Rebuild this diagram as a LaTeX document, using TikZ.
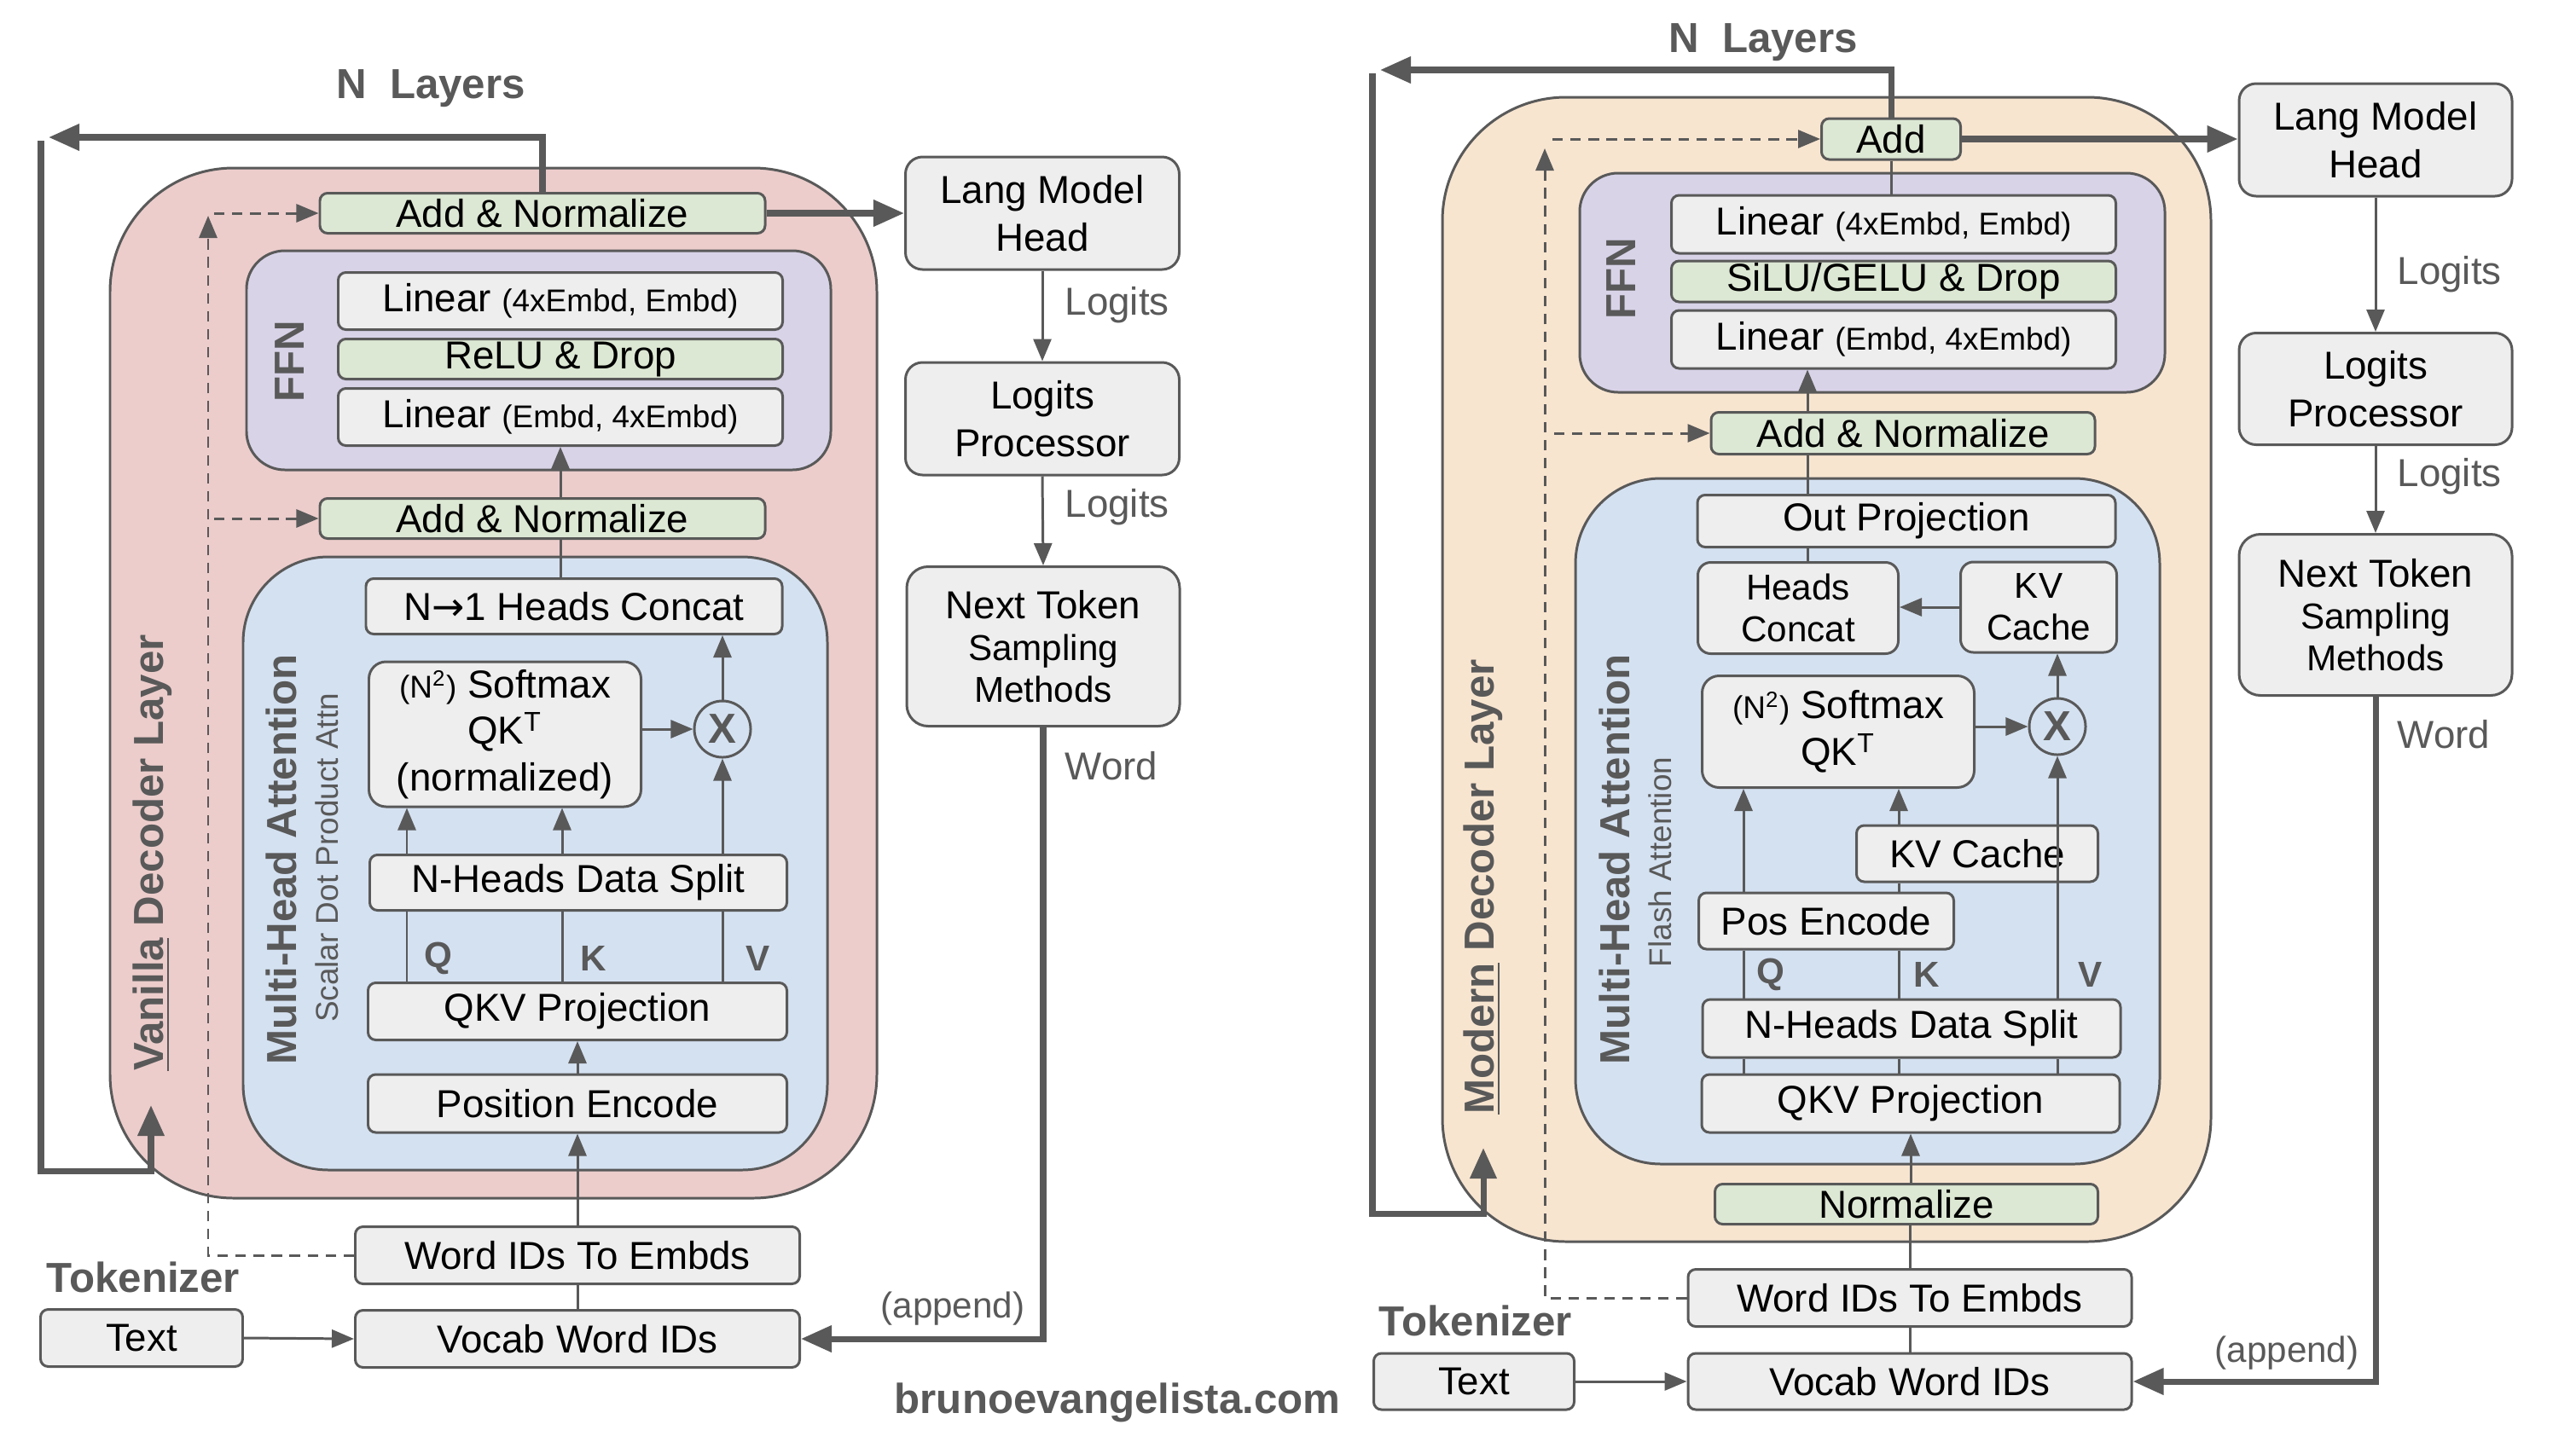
\documentclass[tikz,border=0pt]{standalone}
\usepackage{fontspec}
\setmainfont{Liberation Sans}
\newfontfamily\arrowFont{DejaVu Sans}
\usepackage{xcolor}
\newcommand*\smallPart[1]{{\fontsize{10.5}{12}\selectfont #1}}
\usepackage{tikz}
\usetikzlibrary{positioning}
\usetikzlibrary{arrows.meta}

\definecolor{lineGray}{HTML}{595959}
\definecolor{boxGray}{HTML}{EEEEEE}
\definecolor{boxGreen}{HTML}{DDE8D4}
\definecolor{vanillaPink}{HTML}{ECCDCC}
\definecolor{modernPeach}{HTML}{F8E5D0}
\definecolor{ffnPurple}{HTML}{D9D3E8}
\definecolor{mhaBlue}{HTML}{D4E1F1}

\begin{document}
\begin{tikzpicture}[
            box/.style = { draw = lineGray, line width = 0.85pt, fill = boxGray, rounded corners = 0.09cm, align = center, inner sep = 0pt, text = black, font = \fontsize{13}{16}\selectfont },
            grnbox/.style = { box, fill = boxGreen },
            wrap/.style = { draw = lineGray, line width = 0.85pt, rounded corners = #1 },
            mulop/.style = { circle, draw = lineGray, line width = 0.85pt, minimum size = 0.66cm, inner sep = 0pt, text = lineGray, font = \fontsize{14}{16}\selectfont\bfseries },
            lbl/.style = { text = lineGray, inner sep = 0pt, font = \fontsize{13}{15}\selectfont },
            boldlbl/.style = { text = lineGray, inner sep = 0pt, font = \fontsize{14}{16}\selectfont\bfseries },
            qkvlbl/.style = { text = lineGray, inner sep = 0pt, font = \fontsize{12}{14}\selectfont\bfseries },
            conn/.style = { draw = lineGray, line width = 0.85pt },
            arr/.style = { conn, -{Triangle[length = 0.26cm, width = 0.21cm]} },
            thickarr/.style = { draw = lineGray, line width = 2pt, -{Triangle[length = 0.36cm, width = 0.3cm]} },
            dasharr/.style = { arr, dash pattern = on 3.5pt off 2.5pt },
            ]
            \def\oneUnit{0.01cm}
            \useasboundingbox (0,0) rectangle (3020*\oneUnit,-1690*\oneUnit);

            % ---------- vanilla decoder ----------
            \draw[wrap = 145*\oneUnit, fill = vanillaPink] (129*\oneUnit,-197*\oneUnit) rectangle (1028*\oneUnit,-1405*\oneUnit);
            \draw[wrap = 45*\oneUnit, fill = ffnPurple] (289*\oneUnit,-294*\oneUnit) rectangle (974*\oneUnit,-551*\oneUnit);
            \draw[wrap = 100*\oneUnit, fill = mhaBlue] (285*\oneUnit,-653*\oneUnit) rectangle (970*\oneUnit,-1372*\oneUnit);

            \node[boldlbl] (layersL) at (505*\oneUnit,-104*\oneUnit) {N\ \ Layers};
            \node[boldlbl, rotate = 90] (vanillaL) at (179*\oneUnit,-1000*\oneUnit) {\underline{Vanilla} Decoder Layer};
            \node[boldlbl, rotate = 90] (mhaL) at (330*\oneUnit,-1008*\oneUnit) {Multi-Head Attention};
            \node[lbl, rotate = 90, font = \fontsize{10.5}{12}\selectfont] (scalarL) at (383*\oneUnit,-1006*\oneUnit) {Scalar Dot Product Attn};
            \node[boldlbl, rotate = 90] (ffnL) at (340*\oneUnit,-424*\oneUnit) {FFN};

            \node[grnbox, minimum width = 522*\oneUnit, minimum height = 47*\oneUnit] (addNormTop) at (636*\oneUnit,-250*\oneUnit) {Add \& Normalize};
            \node[box, minimum width = 521*\oneUnit, minimum height = 67*\oneUnit] (linA) at (657*\oneUnit,-353*\oneUnit) {Linear \smallPart{(4xEmbd, Embd)}};
            \node[grnbox, minimum width = 521*\oneUnit, minimum height = 47*\oneUnit] (relu) at (657*\oneUnit,-421*\oneUnit) {ReLU \& Drop};
            \node[box, minimum width = 521*\oneUnit, minimum height = 67*\oneUnit] (linB) at (657*\oneUnit,-489*\oneUnit) {Linear \smallPart{(Embd, 4xEmbd)}};
            \node[grnbox, minimum width = 522*\oneUnit, minimum height = 47*\oneUnit] (addNormMid) at (636*\oneUnit,-608*\oneUnit) {Add \& Normalize};

            \node[box, minimum width = 488*\oneUnit, minimum height = 65*\oneUnit] (concatL) at (673*\oneUnit,-711*\oneUnit) {N{\arrowFont →}1 Heads Concat};
            \node[box, rounded corners = 0.2cm, minimum width = 319*\oneUnit, minimum height = 170*\oneUnit, font = \fontsize{13}{15.5}\selectfont] (softmaxL) at (592*\oneUnit,-861*\oneUnit) {\smallPart{(N\textsuperscript{2})} Softmax\\QK\textsuperscript{T}\\(normalized)};
            \node[mulop] (mulL) at (847*\oneUnit,-855*\oneUnit) {X};
            \node[box, minimum width = 489*\oneUnit, minimum height = 65*\oneUnit] (splitL) at (678*\oneUnit,-1035*\oneUnit) {N-Heads Data Split};
            \node[box, minimum width = 491*\oneUnit, minimum height = 67*\oneUnit] (qkvL) at (677*\oneUnit,-1186*\oneUnit) {QKV Projection};
            \node[box, minimum width = 491*\oneUnit, minimum height = 68*\oneUnit] (posL) at (677*\oneUnit,-1294*\oneUnit) {Position Encode};
            \node[box, minimum width = 521*\oneUnit, minimum height = 67*\oneUnit] (widL) at (677*\oneUnit,-1472*\oneUnit) {Word IDs To Embds};
            \node[box, minimum width = 521*\oneUnit, minimum height = 67*\oneUnit] (vocabL) at (677*\oneUnit,-1570*\oneUnit) {Vocab Word IDs};
            \node[box, minimum width = 237*\oneUnit, minimum height = 67*\oneUnit] (textL) at (166*\oneUnit,-1569*\oneUnit) {Text};
            \node[boldlbl] (tokL) at (168*\oneUnit,-1498*\oneUnit) {Tokenizer};

            \node[qkvlbl] (qL) at (514*\oneUnit,-1124*\oneUnit) {Q};
            \node[qkvlbl] (kL) at (696*\oneUnit,-1124*\oneUnit) {K};
            \node[qkvlbl] (vL) at (889*\oneUnit,-1124*\oneUnit) {V};
            \coordinate (colQL) at (477*\oneUnit,-1124*\oneUnit);
            \coordinate (colKL) at (659*\oneUnit,-1124*\oneUnit);
            \coordinate (colVL) at (847*\oneUnit,-1124*\oneUnit);

            \node[box, rounded corners = 0.2cm, minimum width = 321*\oneUnit, minimum height = 132*\oneUnit] (lmhL) at (1222*\oneUnit,-250*\oneUnit) {Lang Model\\Head};
            \node[box, rounded corners = 0.2cm, minimum width = 321*\oneUnit, minimum height = 132*\oneUnit] (lprocL) at (1222*\oneUnit,-491*\oneUnit) {Logits\\Processor};
            \node[box, rounded corners = 0.25cm, minimum width = 320*\oneUnit, minimum height = 187*\oneUnit, font = \fontsize{12}{14}\selectfont] (ntsL) at (1223*\oneUnit,-758*\oneUnit) {{\fontsize{13}{16}\selectfont Next Token}\\Sampling\\Methods};
            \node[lbl, anchor = west] (logitsAL) at (1248*\oneUnit,-358*\oneUnit) {Logits};
            \node[lbl, anchor = west] (logitsBL) at (1248*\oneUnit,-595*\oneUnit) {Logits};
            \node[lbl, anchor = west] (wordL) at (1248*\oneUnit,-898*\oneUnit) {Word};
            \node[lbl, font = \fontsize{12}{14}\selectfont] (appendL) at (1117*\oneUnit,-1535*\oneUnit) {(append)};

            % connectors
            \coordinate (loopTopL) at (57*\oneUnit,-161*\oneUnit);
            \coordinate (loopStartL) at (48*\oneUnit,-165*\oneUnit);
            \coordinate (loopCornerL) at (48*\oneUnit,-1373*\oneUnit);
            \coordinate (loopEndL) at (177*\oneUnit,-1296*\oneUnit);
            \draw[thickarr] (addNormTop.north) |- (loopTopL);
            \draw[thickarr] (loopStartL) -- (loopCornerL) -| (loopEndL);
            \draw[thickarr] (addNormTop.east) -- (lmhL.west);

            \coordinate (resTopL) at (244*\oneUnit,-253*\oneUnit);
            \coordinate (resAL) at (251*\oneUnit,-250*\oneUnit);
            \coordinate (resBL) at (251*\oneUnit,-608*\oneUnit);
            \draw[dasharr] (widL.west) -| (resTopL);
            \draw[dasharr] (resAL) -- (addNormTop.west);
            \draw[dasharr] (resBL) -- (addNormMid.west);

            \draw[arr] (addNormMid.north -| linB.south) -- (linB.south);
            \draw[conn] (addNormMid.south -| linB.south) -- (concatL.north -| linB.south);
            \draw[arr] (mulL.west -| softmaxL.east) -- (mulL.west);
            \draw[arr] (mulL.north) -- (mulL.north |- concatL.south);
            \draw[arr] (splitL.north -| colQL) -- (softmaxL.south -| colQL);
            \draw[arr] (splitL.north -| colKL) -- (softmaxL.south -| colKL);
            \draw[arr] (splitL.north -| colVL) -- (mulL.south);
            \draw[conn] (qkvL.north -| colQL) -- (splitL.south -| colQL);
            \draw[conn] (qkvL.north -| colKL) -- (splitL.south -| colKL);
            \draw[conn] (qkvL.north -| colVL) -- (splitL.south -| colVL);
            \draw[arr] (posL.north) -- (qkvL.south);
            \draw[arr] (widL.north) -- (posL.south);
            \draw[conn] (vocabL.north) -- (widL.south);
            \draw[arr] (textL.east) -- (vocabL.west);
            \draw[arr] (lmhL.south) -- (lprocL.north);
            \draw[arr] (lprocL.south) -- (ntsL.north);
            \draw[thickarr] (ntsL.south) |- (vocabL.east);

            % ---------- modern decoder ----------
            \draw[wrap = 145*\oneUnit, fill = modernPeach] (1691*\oneUnit,-114*\oneUnit) rectangle (2592*\oneUnit,-1456*\oneUnit);
            \draw[wrap = 45*\oneUnit, fill = ffnPurple] (1852*\oneUnit,-203*\oneUnit) rectangle (2538*\oneUnit,-460*\oneUnit);
            \draw[wrap = 100*\oneUnit, fill = mhaBlue] (1847*\oneUnit,-561*\oneUnit) rectangle (2532*\oneUnit,-1365*\oneUnit);

            \node[boldlbl] (layersR) at (2067*\oneUnit,-50*\oneUnit) {N\ \ Layers};
            \node[boldlbl, rotate = 90] (modernR) at (1739*\oneUnit,-1040*\oneUnit) {\underline{Modern} Decoder Layer};
            \node[boldlbl, rotate = 90] (mhaR) at (1893*\oneUnit,-1008*\oneUnit) {Multi-Head Attention};
            \node[lbl, rotate = 90, font = \fontsize{10.5}{12}\selectfont] (flashR) at (1946*\oneUnit,-1011*\oneUnit) {Flash Attention};
            \node[boldlbl, rotate = 90] (ffnR) at (1901*\oneUnit,-327*\oneUnit) {FFN};

            \node[grnbox, minimum width = 163*\oneUnit, minimum height = 48*\oneUnit] (addR) at (2217*\oneUnit,-163*\oneUnit) {Add};
            \node[box, minimum width = 521*\oneUnit, minimum height = 68*\oneUnit] (linRA) at (2220*\oneUnit,-263*\oneUnit) {Linear \smallPart{(4xEmbd, Embd)}};
            \node[grnbox, minimum width = 521*\oneUnit, minimum height = 48*\oneUnit] (silu) at (2220*\oneUnit,-330*\oneUnit) {SiLU/GELU \& Drop};
            \node[box, minimum width = 521*\oneUnit, minimum height = 68*\oneUnit] (linRB) at (2220*\oneUnit,-398*\oneUnit) {Linear \smallPart{(Embd, 4xEmbd)}};
            \node[grnbox, minimum width = 450*\oneUnit, minimum height = 49*\oneUnit] (addNormR) at (2231*\oneUnit,-508*\oneUnit) {Add \& Normalize};

            \node[box, minimum width = 490*\oneUnit, minimum height = 61*\oneUnit] (outProj) at (2235*\oneUnit,-611*\oneUnit) {Out Projection};
            \node[box, rounded corners = 0.15cm, minimum width = 235*\oneUnit, minimum height = 107*\oneUnit, font = \fontsize{12}{14}\selectfont] (concatR) at (2108*\oneUnit,-713*\oneUnit) {Heads\\Concat};
            \node[box, rounded corners = 0.15cm, minimum width = 183*\oneUnit, minimum height = 106*\oneUnit, font = \fontsize{12}{14}\selectfont] (kvTop) at (2390*\oneUnit,-712*\oneUnit) {KV\\Cache};
            \node[box, rounded corners = 0.2cm, minimum width = 319*\oneUnit, minimum height = 131*\oneUnit, font = \fontsize{13}{15.5}\selectfont] (softmaxR) at (2155*\oneUnit,-858*\oneUnit) {\smallPart{(N\textsuperscript{2})} Softmax\\QK\textsuperscript{T}};
            \node[mulop] (mulR) at (2412*\oneUnit,-852*\oneUnit) {X};
            \node[box, minimum width = 283*\oneUnit, minimum height = 66*\oneUnit] (kvLow) at (2318*\oneUnit,-1001*\oneUnit) {KV Cache};

            \coordinate (colQR) at (2044*\oneUnit,-1143*\oneUnit);
            \coordinate (colKR) at (2226*\oneUnit,-1143*\oneUnit);
            \coordinate (colVR) at (2412*\oneUnit,-1143*\oneUnit);
            \node[box, minimum width = 490*\oneUnit, minimum height = 68*\oneUnit] (splitR) at (2241*\oneUnit,-1206*\oneUnit) {N-Heads Data Split};
            \node[box, minimum width = 299*\oneUnit, minimum height = 66*\oneUnit] (posR) at (2141*\oneUnit,-1080*\oneUnit) {Pos Encode};
            \node[box, minimum width = 490*\oneUnit, minimum height = 68*\oneUnit] (qkvR) at (2240*\oneUnit,-1294*\oneUnit) {QKV Projection};
            \node[grnbox, minimum width = 449*\oneUnit, minimum height = 47*\oneUnit] (normR) at (2235*\oneUnit,-1412*\oneUnit) {Normalize};
            \node[box, minimum width = 520*\oneUnit, minimum height = 67*\oneUnit] (widR) at (2239*\oneUnit,-1522*\oneUnit) {Word IDs To Embds};
            \node[box, minimum width = 520*\oneUnit, minimum height = 66*\oneUnit] (vocabR) at (2239*\oneUnit,-1620*\oneUnit) {Vocab Word IDs};
            \node[box, minimum width = 235*\oneUnit, minimum height = 66*\oneUnit] (textR) at (1728*\oneUnit,-1620*\oneUnit) {Text};
            \node[boldlbl] (tokR) at (1730*\oneUnit,-1549*\oneUnit) {Tokenizer};

            \node[qkvlbl] (qR) at (2076*\oneUnit,-1143*\oneUnit) {Q};
            \node[qkvlbl] (kR) at (2259*\oneUnit,-1143*\oneUnit) {K};
            \node[qkvlbl] (vR) at (2451*\oneUnit,-1143*\oneUnit) {V};

            \node[box, rounded corners = 0.2cm, minimum width = 320*\oneUnit, minimum height = 132*\oneUnit] (lmhR) at (2785*\oneUnit,-164*\oneUnit) {Lang Model\\Head};
            \node[box, rounded corners = 0.2cm, minimum width = 320*\oneUnit, minimum height = 131*\oneUnit] (lprocR) at (2785*\oneUnit,-456*\oneUnit) {Logits\\Processor};
            \node[box, rounded corners = 0.25cm, minimum width = 320*\oneUnit, minimum height = 189*\oneUnit, font = \fontsize{12}{14}\selectfont] (ntsR) at (2785*\oneUnit,-721*\oneUnit) {{\fontsize{13}{16}\selectfont Next Token}\\Sampling\\Methods};
            \node[lbl, anchor = west] (logitsAR) at (2810*\oneUnit,-322*\oneUnit) {Logits};
            \node[lbl, anchor = west] (logitsBR) at (2810*\oneUnit,-559*\oneUnit) {Logits};
            \node[lbl, anchor = west] (wordR) at (2810*\oneUnit,-861*\oneUnit) {Word};
            \node[lbl, font = \fontsize{12}{14}\selectfont] (appendR) at (2681*\oneUnit,-1587*\oneUnit) {(append)};

            % connectors
            \coordinate (loopTopR) at (1618*\oneUnit,-82*\oneUnit);
            \coordinate (loopStartR) at (1609*\oneUnit,-86*\oneUnit);
            \coordinate (loopCornerR) at (1609*\oneUnit,-1423*\oneUnit);
            \coordinate (loopEndR) at (1739*\oneUnit,-1346*\oneUnit);
            \draw[thickarr] (addR.north) |- (loopTopR);
            \draw[thickarr] (loopStartR) -- (loopCornerR) -| (loopEndR);
            \draw[thickarr] (addR.east) -- (addR.east -| lmhR.west);

            \coordinate (resTopR) at (1811*\oneUnit,-174*\oneUnit);
            \coordinate (resAR) at (1820*\oneUnit,-163*\oneUnit);
            \coordinate (resBR) at (1822*\oneUnit,-508*\oneUnit);
            \draw[dasharr] (widR.west) -| (resTopR);
            \draw[dasharr] (resAR) -- (addR.west);
            \draw[dasharr] (resBR) -- (addNormR.west);

            \coordinate (colMidR) at (2119*\oneUnit,-508*\oneUnit);
            \draw[conn] (addR.south) -- (linRA.north -| addR.south);
            \draw[arr] (addNormR.north -| colMidR) -- (linRB.south -| colMidR);
            \draw[conn] (addNormR.south -| colMidR) -- (outProj.north -| colMidR);
            \draw[conn] (outProj.south -| colMidR) -- (concatR.north -| colMidR);
            \draw[arr] (kvTop.west) -- (kvTop.west -| concatR.east);
            \draw[arr] (mulR.west -| softmaxR.east) -- (mulR.west);
            \draw[arr] (mulR.north) -- (mulR.north |- kvTop.south);
            \draw[arr] (posR.north -| colQR) -- (softmaxR.south -| colQR);
            \draw[arr] (kvLow.north -| colKR) -- (softmaxR.south -| colKR);
            \draw[conn] (posR.north -| colKR) -- (kvLow.south -| colKR);
            \draw[conn] (splitR.north -| colKR) -- (posR.south -| colKR);
            \draw[conn] (splitR.north -| colQR) -- (posR.south -| colQR);
            \draw[arr] (splitR.north -| colVR) -- (mulR.south);
            \draw[conn] (qkvR.north -| colQR) -- (splitR.south -| colQR);
            \draw[conn] (qkvR.north -| colKR) -- (splitR.south -| colKR);
            \draw[conn] (qkvR.north -| colVR) -- (splitR.south -| colVR);
            \draw[arr] (normR.north -| qkvR.south) -- (qkvR.south);
            \draw[conn] (widR.north) -- (normR.south -| widR.north);
            \draw[conn] (vocabR.north) -- (widR.south);
            \draw[arr] (textR.east) -- (vocabR.west);
            \draw[arr] (lmhR.south) -- (lprocR.north);
            \draw[arr] (lprocR.south) -- (ntsR.north);
            \draw[thickarr] (ntsR.south) |- (vocabR.east);

            \node[text = lineGray, font = \fontsize{14}{16}\selectfont\bfseries] (site) at (1310*\oneUnit,-1645*\oneUnit) {brunoevangelista.com};
\end{tikzpicture}
\end{document}
